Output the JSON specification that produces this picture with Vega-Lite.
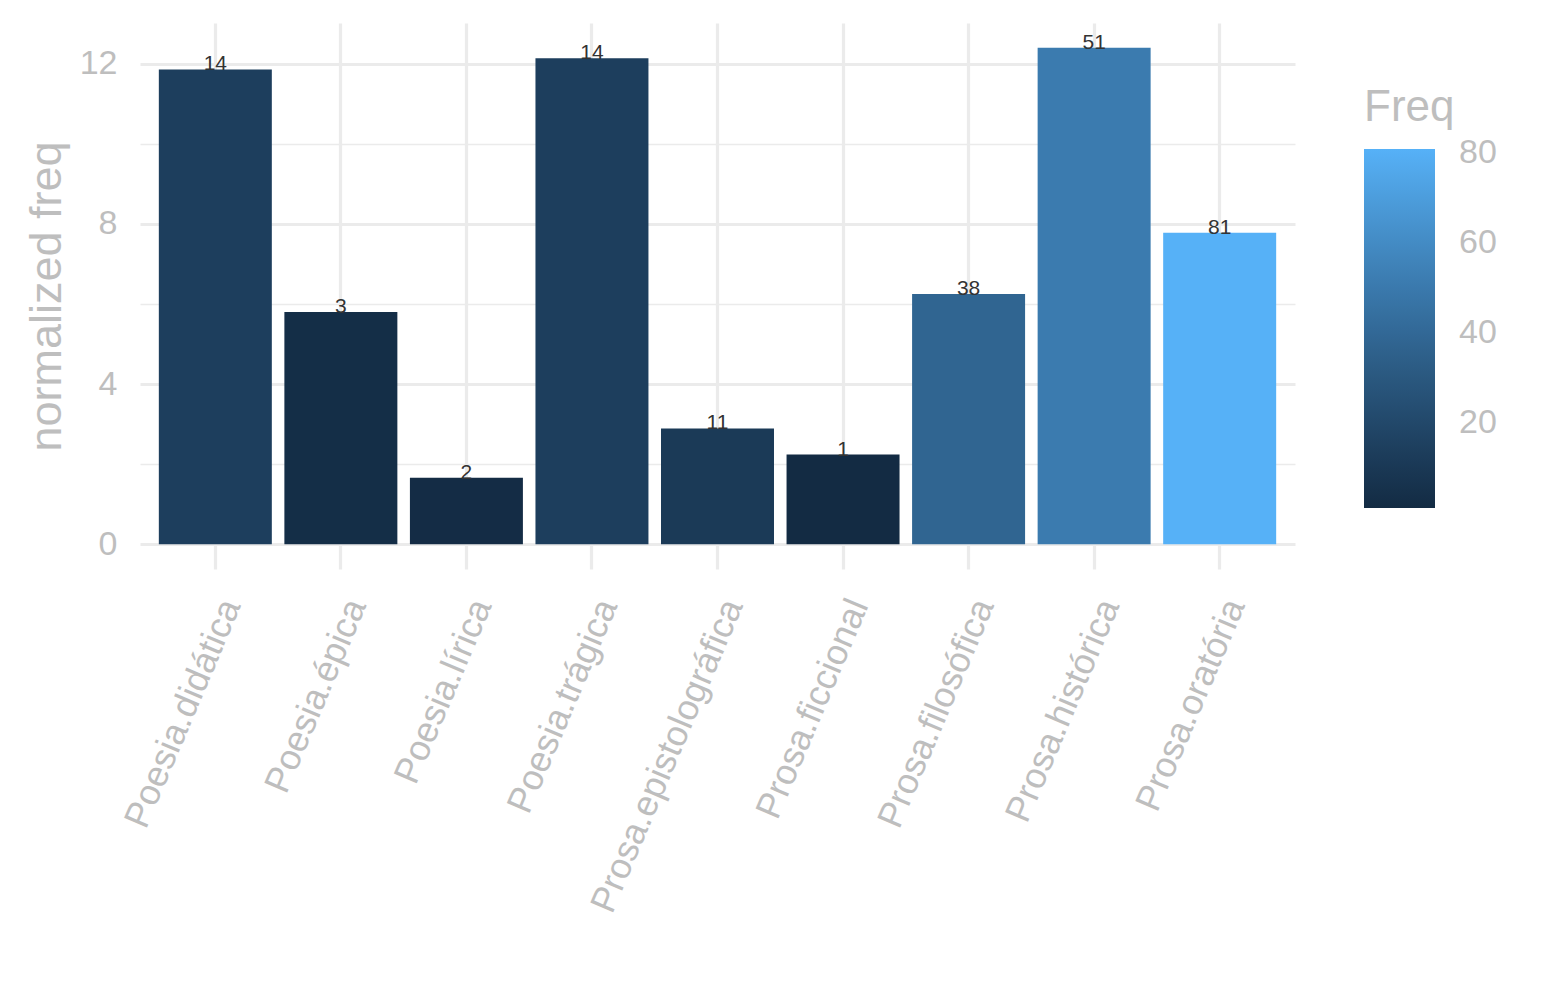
{
  "$schema": "https://vega.github.io/schema/vega-lite/v6.json",
  "width": 1155,
  "height": 546,
  "autosize": {"type": "none"},
  "padding": {"left": 140, "top": 23, "right": 250, "bottom": 431},
  "background": "white",
  "config": {"view": {"stroke": null}, "font": "Liberation Sans"},
  "data": {
    "values": [
      {"genre": "Poesia.didática", "nfreq": 11.86, "Freq": 14},
      {"genre": "Poesia.épica", "nfreq": 5.80, "Freq": 3},
      {"genre": "Poesia.lírica", "nfreq": 1.66, "Freq": 2},
      {"genre": "Poesia.trágica", "nfreq": 12.14, "Freq": 14},
      {"genre": "Prosa.epistolográfica", "nfreq": 2.89, "Freq": 11},
      {"genre": "Prosa.ficcional", "nfreq": 2.24, "Freq": 1},
      {"genre": "Prosa.filosófica", "nfreq": 6.25, "Freq": 38},
      {"genre": "Prosa.histórica", "nfreq": 12.40, "Freq": 51},
      {"genre": "Prosa.oratória", "nfreq": 7.78, "Freq": 81}
    ]
  },
  "encoding": {
    "x": {
      "field": "genre",
      "type": "nominal",
      "sort": null,
      "scale": {"paddingInner": 0.1, "paddingOuter": 0.15},
      "axis": {
        "title": null,
        "domain": false,
        "ticks": false,
        "tickSize": 0,
        "labelAngle": -67,
        "labelAlign": "right",
        "labelBaseline": "top",
        "labelPadding": 25,
        "labelFontSize": 36,
        "labelColor": "#BEBEBE",
        "labelLimit": 1000,
        "grid": true,
        "gridColor": "#EBEBEB",
        "gridWidth": 3.2,
        "bandPosition": 0.5
      }
    },
    "y": {
      "field": "nfreq",
      "type": "quantitative",
      "scale": {"domain": [-0.62, 13.02], "nice": false, "zero": false},
      "axis": {
        "title": "normalized freq",
        "titleFontSize": 45,
        "titleColor": "#BEBEBE",
        "titleFontWeight": "normal",
        "titlePadding": 10,
        "values": [0, 2, 4, 6, 8, 10, 12],
        "labelExpr": "datum.value % 4 === 0 ? datum.label : ''",
        "labelFontSize": 34,
        "labelColor": "#BEBEBE",
        "labelPadding": 23,
        "domain": false,
        "ticks": false,
        "tickSize": 0,
        "grid": true,
        "gridColor": "#EBEBEB",
        "gridWidth": {"condition": {"test": "datum.value % 4 === 0", "value": 3.2}, "value": 1.6}
      }
    }
  },
  "layer": [
    {
      "mark": {"type": "bar"},
      "encoding": {
        "y2": {"datum": 0},
        "color": {
          "field": "Freq",
          "type": "quantitative",
          "scale": {"domain": [1, 81], "range": ["#132B43", "#56B1F7"], "interpolate": "lab"},
          "legend": {
            "orient": "none",
            "legendX": 1224,
            "legendY": 63,
            "direction": "vertical",
            "title": "Freq",
            "titleFontSize": 44,
            "titleColor": "#BEBEBE",
            "titleFontWeight": "normal",
            "titlePadding": 19,
            "gradientLength": 359,
            "gradientThickness": 71,
            "gradientStrokeWidth": 0,
            "values": [20, 40, 60, 80],
            "labelFontSize": 34,
            "labelColor": "#BEBEBE",
            "labelOffset": 24
          }
        }
      }
    },
    {
      "mark": {"type": "text", "baseline": "alphabetic", "fontSize": 21, "color": "#333333", "dy": 1},
      "encoding": {
        "text": {"field": "Freq", "type": "quantitative"}
      }
    }
  ]
}
